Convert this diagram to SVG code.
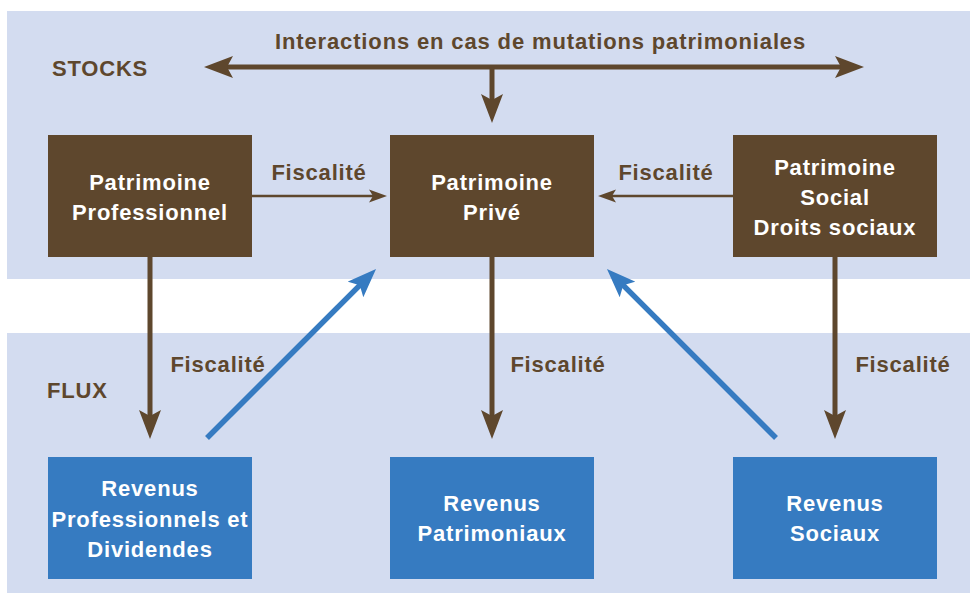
<svg xmlns="http://www.w3.org/2000/svg" width="970" height="594" viewBox="0 0 970 594">
<defs>
<style>
.panel{fill:#D3DCF0}
.bbox{fill:#5E472D}
.blbox{fill:#367BC1}
.t{font-family:"Liberation Sans",Arial,sans-serif;font-weight:bold;font-size:22px;letter-spacing:0.8px}
.w{fill:#FFFFFF;text-anchor:middle}
.b{fill:#5E472D}
.c{text-anchor:middle}
.thick{stroke:#5E472D;stroke-width:5;fill:none}
.thin{stroke:#5E472D;stroke-width:2.5;fill:none}
.blue{stroke:#367BC1;stroke-width:5.5;fill:none}
</style>
<marker id="ah" markerUnits="userSpaceOnUse" viewBox="0 -11 29 22" refX="9" refY="0" markerWidth="29" markerHeight="22" orient="auto-start-reverse">
<path d="M0,-11 L29,0 L0,11 L6,0 z" fill="#5E472D"/>
</marker>
<marker id="ahs" markerUnits="userSpaceOnUse" viewBox="0 -7 18 14" refX="6" refY="0" markerWidth="18" markerHeight="14" orient="auto">
<path d="M0,-6.5 L18,0 L0,6.5 L4,0 z" fill="#5E472D"/>
</marker>
<marker id="ahb" markerUnits="userSpaceOnUse" viewBox="0 -11 29 22" refX="9" refY="0" markerWidth="29" markerHeight="22" orient="auto">
<path d="M0,-11 L29,0 L0,11 L6,0 z" fill="#367BC1"/>
</marker>
</defs>
<rect width="970" height="594" fill="#FFFFFF"/>
<rect class="panel" x="7" y="11" width="963" height="268"/>
<rect class="panel" x="7" y="333" width="963" height="260"/>
<text class="t b" x="52" y="76">STOCKS</text>
<text class="t b" x="47" y="398">FLUX</text>
<text class="t b" x="275" y="49" textLength="531" lengthAdjust="spacing">Interactions en cas de mutations patrimoniales</text>
<g id="connectors">
<path class="thick" d="M224,67 L844,67" marker-start="url(#ah)" marker-end="url(#ah)"/>
<path class="thick" d="M492,67 L492,103" marker-end="url(#ah)"/>
<path class="thin" d="M252,196 L375,196" marker-end="url(#ahs)"/>
<text class="t b c" x="319" y="180">Fiscalité</text>
<path class="thin" d="M733,196 L610,196" marker-end="url(#ahs)"/>
<text class="t b c" x="666" y="180">Fiscalité</text>
<path class="thick" d="M150,257 L150,419" marker-end="url(#ah)"/>
<text class="t b c" x="218" y="372">Fiscalité</text>
<path class="thick" d="M492,257 L492,419" marker-end="url(#ah)"/>
<text class="t b c" x="558" y="372">Fiscalité</text>
<path class="thick" d="M835,257 L835,419" marker-end="url(#ah)"/>
<text class="t b c" x="903" y="372">Fiscalité</text>
<path class="blue" d="M207,438 L361.9,283.1" marker-end="url(#ahb)"/>
<path class="blue" d="M776,438 L621.1,283.1" marker-end="url(#ahb)"/>
</g>
<g id="patrimoine-professionnel">
<rect class="bbox" x="48" y="135" width="204" height="122"/>
<text class="t w" x="150" y="190">Patrimoine</text>
<text class="t w" x="150" y="220">Professionnel</text>
</g>
<g id="patrimoine-prive">
<rect class="bbox" x="390" y="135" width="204" height="122"/>
<text class="t w" x="492" y="190">Patrimoine</text>
<text class="t w" x="492" y="220">Privé</text>
</g>
<g id="patrimoine-social">
<rect class="bbox" x="733" y="135" width="204" height="122"/>
<text class="t w" x="835" y="175">Patrimoine</text>
<text class="t w" x="835" y="205">Social</text>
<text class="t w" x="835" y="235">Droits sociaux</text>
</g>
<g id="revenus-professionnels">
<rect class="blbox" x="48" y="457" width="204" height="122"/>
<text class="t w" x="150" y="496">Revenus</text>
<text class="t w" x="150" y="527">Professionnels et</text>
<text class="t w" x="150" y="557">Dividendes</text>
</g>
<g id="revenus-patrimoniaux">
<rect class="blbox" x="390" y="457" width="204" height="122"/>
<text class="t w" x="492" y="511">Revenus</text>
<text class="t w" x="492" y="541">Patrimoniaux</text>
</g>
<g id="revenus-sociaux">
<rect class="blbox" x="733" y="457" width="204" height="122"/>
<text class="t w" x="835" y="511">Revenus</text>
<text class="t w" x="835" y="541">Sociaux</text>
</g>
</svg>
